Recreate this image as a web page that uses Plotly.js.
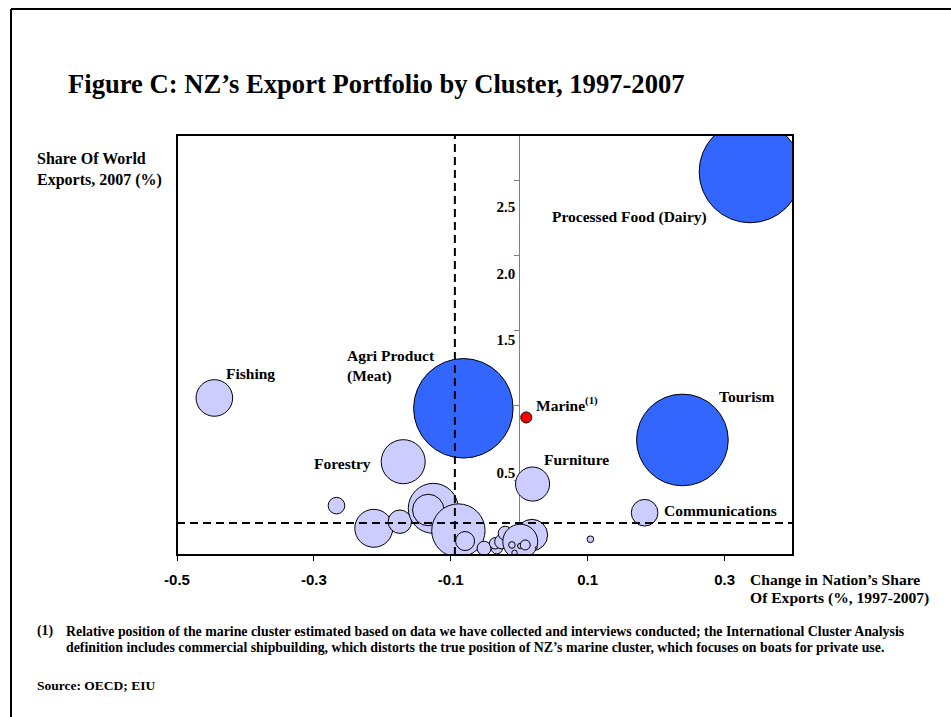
<!DOCTYPE html>
<html><head><meta charset="utf-8">
<script src="https://cdn.plot.ly/plotly-3.0.1.min.js"></script>
<style>html,body{margin:0;padding:0;background:#fff}</style>
</head><body><div id="chart" style="width:951px;height:717px"></div>
<script>
// ---- data ----
const clusterNames = ['Processed Food (Dairy)','Agri Product (Meat)','Tourism','Fishing','Forestry','Furniture','Communications',
  'Other','Other','Other','Other','Other','Other','Other','Other','Other','Other','Other','Other','Other','Other','Other','Other','Other','Other','Other','Other','Marine'];
const changeInShare = [0.3374,-0.0816,0.2384,-0.4454,-0.1695,0.0195,0.1832,
  -0.267,-0.2125,-0.1744,-0.1256,-0.1329,-0.0889,-0.0791,-0.0513,-0.0327,-0.0352,-0.0253,-0.0205,0.0186,0.0015,-0.0107,-0.0069,0.0015,0.0088,0.0249,0.104,0.0103];
const worldShare = [2.555,0.978,0.767,1.047,0.622,0.473,0.282,
  0.329,0.178,0.222,0.311,0.300,0.163,0.093,0.045,0.045,0.078,0.089,0.145,0.133,0.089,0.067,0.015,0.060,0.067,0.049,0.105,0.917];
const exportSize = [10.4,9.9,8.4,1.34,1.94,1.16,0.71,
  0.276,1.44,0.55,2.5,0.99,2.85,0.36,0.196,0.13,0.13,0.21,0.196,0.99,1.22,0.044,0.029,0.029,0.1,0.004,0.044,0.121];
const clusterGroup = ['major','major','major','minor','minor','minor','minor',
  'minor','minor','minor','minor','minor','minor','minor','minor','minor','minor','minor','minor','minor','minor','minor','minor','minor','minor','minor','minor','marine'];
const xTickVals = [-0.5,-0.3,-0.1,0.1,0.3];
const xTickText = ['-0.5','-0.3','-0.1','0.1','0.3'];
const yTickVals = [0.5,1.0,1.5,2.0,2.5];
const yLabelVals = [0.5,1.5,2.0,2.5];
const yLabelText = ['0.5','1.5','2.0','2.5'];
const avgChange = -0.094;
const avgShare = 0.213;
const labelText = ['Processed Food (Dairy)','Tourism','Marine<sup>(1)</sup>','Furniture','Communications','Fishing','Agri Product<br>(Meat)','Forestry'];

// ---- styling / placement ----
const labelX = [0.0455,0.2887,0.0220,0.0337,0.2081,-0.431,-0.255,-0.303];
const labelY = [2.253,1.06,1.007,0.64,0.30,1.213,1.26,0.613];
const groupColor = {major:'#3366FF', minor:'#CCCCFF', marine:'#FF0000'};
const SERIF = 'Liberation Serif, Times New Roman, serif';
const SANS = 'Liberation Sans, Arial, sans-serif';

const bubbles = {
  type:'scatter', mode:'markers',
  x: changeInShare, y: worldShare, text: clusterNames,
  hoverinfo:'text+x+y',
  marker:{
    size: exportSize, sizemode:'area', sizeref:0.002, sizemin:1,
    color: clusterGroup.map(g => groupColor[g]),
    opacity:1,
    line:{color:'#000', width:1}
  },
  cliponaxis:true, showlegend:false
};
const labelAxisDummy = {type:'scatter', mode:'markers', x:[0], y:[-1], yaxis:'y2', showlegend:false, hoverinfo:'skip', marker:{opacity:0}};

const annotations = labelText.map((t,i) => ({
  text:t, x:labelX[i], y:labelY[i], xref:'x', yref:'y', xanchor:'left', yanchor:'middle', align:'left',
  showarrow:false, font:{family:SERIF, size:15.5, color:'#000', weight:'bold'}
}));
function paperNote(t, px, py, size){
  return {text:t, x:(px-177)/616, y:(555-py)/420, xref:'paper', yref:'paper', xanchor:'left', yanchor:'middle',
    align:'left', showarrow:false, font:{family:SERIF, size:size, color:'#000', weight:'bold'}};
}
annotations.push(paperNote('Share Of World', 35, 158, 16));
annotations.push(paperNote('Exports, 2007 (%)', 35, 180, 16));
annotations.push(paperNote('Change in Nation’s Share', 748, 579, 15.6));
annotations.push(paperNote('Of Exports (%, 1997-2007)', 748, 598, 15.6));
annotations.push(paperNote('(1)', 35, 631, 13.85));
annotations.push(paperNote('Relative position of the marine cluster estimated based on data we have collected and interviews conducted; the International Cluster Analysis', 64, 631, 13.85));
annotations.push(paperNote('definition includes commercial shipbuilding, which distorts the true position of NZ’s marine cluster, which focuses on boats for private use.', 64, 647, 13.85));
annotations.push(paperNote('Source: OECD; EIU', 35, 685, 13.5));

const zeroPos = (0 - (-0.5)) / 0.9;
const layout = {
  width:951, height:717,
  margin:{l:177, r:158, t:135, b:162, pad:0},
  paper_bgcolor:'#fff', plot_bgcolor:'#fff',
  title:{text:'Figure C: NZ’s Export Portfolio by Cluster, 1997-2007', xref:'container', yref:'container',
    x:68/951, xanchor:'left', y:1-84/717, yanchor:'middle',
    font:{family:SERIF, size:26.6, color:'#000', weight:'bold'}},
  xaxis:{range:[-0.5,0.4], tickvals:xTickVals, ticktext:xTickText, ticks:'outside', ticklen:5, tickwidth:1, tickcolor:'#000',
    ticklabelstandoff:6,
    showgrid:false, zeroline:false, showline:false,
    tickfont:{family:SANS, size:15, color:'#000', weight:'bold'}},
  yaxis:{range:[0,2.8], tickvals:yTickVals, ticks:'outside', ticklen:5, tickwidth:1, tickcolor:'#808080',
    showticklabels:false, showgrid:false, zeroline:false, showline:true, linecolor:'#808080', linewidth:1,
    anchor:'free', position:zeroPos, layer:'below traces'},
  yaxis2:{range:[-0.117,3.04], overlaying:'y', anchor:'free', position:zeroPos, side:'left',
    tickvals:yLabelVals, ticktext:yLabelText, ticks:'', showgrid:false, zeroline:false, showline:false,
    ticklabelstandoff:4,
    tickfont:{family:SERIF, size:15, color:'#000', weight:'bold'}},
  shapes:[
    {type:'line', xref:'x', yref:'paper', x0:avgChange, x1:avgChange, y0:0, y1:1, line:{color:'#000', width:2, dash:'8px,5px'}, layer:'above'},
    {type:'line', xref:'paper', yref:'y', x0:0, x1:1, y0:avgShare, y1:avgShare, line:{color:'#000', width:2, dash:'8px,5px'}, layer:'above'},
    {type:'rect', xref:'paper', yref:'paper', x0:0, x1:1, y0:0, y1:1, line:{color:'#000', width:2}, layer:'above'},
    {type:'line', xref:'paper', yref:'paper', x0:(11-177)/616, x1:(11-177)/616, y0:(555-9)/420, y1:(555-720)/420, line:{color:'#000', width:2}},
    {type:'line', xref:'paper', yref:'paper', x0:(11-177)/616, x1:(955-177)/616, y0:(555-9)/420, y1:(555-9)/420, line:{color:'#000', width:2}}
  ],
  annotations: annotations,
  showlegend:false
};
Plotly.newPlot('chart', [bubbles, labelAxisDummy], layout, {displayModeBar:false, staticPlot:true});
</script></body></html>
